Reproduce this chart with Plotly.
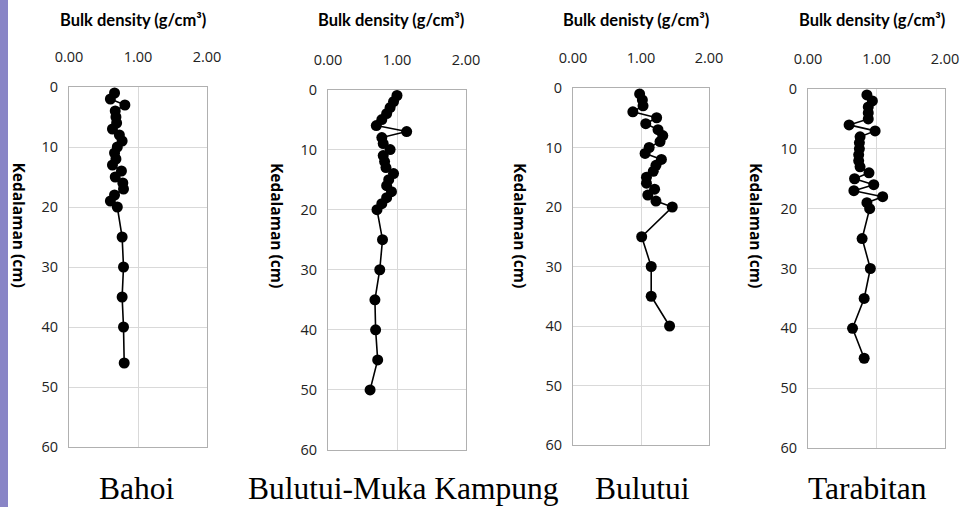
import plotly.graph_objects as go

# ---------------- data ----------------
sites = ["Bahoi", "Bulutui-Muka Kampung", "Bulutui", "Tarabitan"]
x_titles = ["Bulk density (g/cm³)", "Bulk density (g/cm³)",
            "Bulk denisty (g/cm³)", "Bulk density (g/cm³)"]

bahoi_depth = [1, 2, 3, 4, 5, 6, 7, 8, 9, 10, 11, 12, 13, 14, 15, 16, 17, 18, 19, 20, 25, 30, 35, 40, 46]
bahoi_bd = [0.66, 0.60, 0.81, 0.67, 0.68, 0.69, 0.63, 0.73, 0.77, 0.70, 0.66, 0.68, 0.63,
            0.76, 0.67, 0.78, 0.79, 0.66, 0.60, 0.70, 0.77, 0.79, 0.77, 0.79, 0.80]

muka_depth = [1, 2, 3, 4, 5, 6, 7, 8, 9, 10, 11, 12, 13, 14, 15, 16, 17, 18, 19, 20, 25, 30, 35, 40, 45, 50]
muka_bd = [1.00, 0.95, 0.90, 0.85, 0.78, 0.70, 1.14, 0.78, 0.80, 0.90, 0.80, 0.82, 0.84,
           0.95, 0.88, 0.85, 0.92, 0.85, 0.78, 0.71, 0.79, 0.75, 0.68, 0.69, 0.72, 0.61]

bulutui_depth = [1, 2, 3, 4, 5, 6, 7, 8, 9, 10, 11, 12, 13, 14, 15, 16, 17, 18, 19, 20, 25, 30, 35, 40]
bulutui_bd = [0.98, 1.02, 1.03, 0.88, 1.23, 1.07, 1.25, 1.32, 1.28, 1.12, 1.06, 1.30, 1.22,
              1.18, 1.08, 1.08, 1.20, 1.10, 1.22, 1.46, 1.01, 1.15, 1.15, 1.42]

tarabitan_depth = [1, 2, 3, 4, 5, 6, 7, 8, 9, 10, 11, 12, 13, 14, 15, 16, 17, 18, 19, 20, 25, 30, 35, 40, 45]
tarabitan_bd = [0.86, 0.94, 0.88, 0.88, 0.88, 0.60, 0.98, 0.76, 0.75, 0.75, 0.74, 0.74, 0.76,
                0.89, 0.68, 0.96, 0.67, 1.09, 0.86, 0.90, 0.79, 0.91, 0.82, 0.65, 0.82]

depths = [bahoi_depth, muka_depth, bulutui_depth, tarabitan_depth]
values = [bahoi_bd, muka_bd, bulutui_bd, tarabitan_bd]

x_tickvals = [0, 1, 2]
y_tickvals = [0, 10, 20, 30, 40, 50, 60]

# ---------------- layout geometry (pixels) ----------------
W, H = 961, 507
plot_px = [  # (left, right, top, bottom)
    (69, 207, 87, 447),
    (328, 466, 89.5, 450),
    (573, 709, 88, 445),
    (808, 945, 89, 448),
]
ytitle_x = [18.5, 277, 520, 756]
xtitle_x = [133, 391, 636, 872]
site_x = [136, 403, 642, 867]

fig = go.Figure()
layout = dict(
    width=W, height=H, autosize=False,
    margin=dict(l=0, r=0, t=0, b=0, pad=0, autoexpand=False),
    paper_bgcolor="white", plot_bgcolor="white",
    showlegend=False,
    annotations=[],
    shapes=[dict(type="rect", xref="paper", yref="paper", x0=0, x1=8 / W, y0=0, y1=1,
                 fillcolor="#8985c6", line=dict(width=0), layer="below")],
)

tick_font = dict(family="Open Sans", size=14.5, color="#222222")

for i in range(4):
    l, r, t, b = plot_px[i]
    xa = "xaxis" if i == 0 else f"xaxis{i+1}"
    ya = "yaxis" if i == 0 else f"yaxis{i+1}"
    xs = "x" if i == 0 else f"x{i+1}"
    ys = "y" if i == 0 else f"y{i+1}"
    fig.add_trace(go.Scatter(
        x=values[i], y=depths[i], xaxis=xs, yaxis=ys,
        mode="lines+markers",
        line=dict(color="black", width=1.6),
        marker=dict(color="black", size=11),
    ))
    layout[xa] = dict(
        domain=[l / W, r / W], anchor=ys, side="top", range=[0, 2],
        tickvals=x_tickvals, tickformat=".2f", tickfont=tick_font,
        showgrid=True, gridcolor="#d9d9d9", gridwidth=1,
        showline=True, linecolor="#b0b0b0", linewidth=1, mirror=True,
        zeroline=False, ticks="", ticklabelstandoff=18, fixedrange=True,
        automargin=False,
    )
    layout[ya] = dict(
        domain=[1 - b / H, 1 - t / H], anchor=xs, range=[60, 0],
        tickvals=y_tickvals, tickfont=tick_font,
        showgrid=True, gridcolor="#d9d9d9", gridwidth=1,
        showline=True, linecolor="#b0b0b0", linewidth=1, mirror=True,
        zeroline=False, ticks="", ticklabelstandoff=7, fixedrange=True,
        automargin=False,
    )
    layout["annotations"].append(dict(
        text=x_titles[i], xref="paper", yref="paper",
        x=xtitle_x[i] / W, y=1 - 20 / H, xanchor="center", yanchor="middle",
        showarrow=False, font=dict(family="Lato", size=16.5, color="black", weight="bold"),
    ))
    layout["annotations"].append(dict(
        text="Kedalaman (cm)", xref="paper", yref="paper",
        x=ytitle_x[i] / W, y=1 - 225 / H, xanchor="center", yanchor="middle",
        textangle=90, showarrow=False,
        font=dict(family="Open Sans", size=15.5, color="black", weight="bold"),
    ))
    layout["annotations"].append(dict(
        text=sites[i], xref="paper", yref="paper",
        x=site_x[i] / W, y=1 - 488 / H, xanchor="center", yanchor="middle",
        showarrow=False, font=dict(family="Liberation Serif", size=31.5, color="black"),
    ))

fig.update_layout(**layout)
fig.write_html(
    "out.html",
    config={"displayModeBar": False, "staticPlot": True},
    post_script="document.body.style.margin='0';document.body.style.overflow='hidden';",
)
